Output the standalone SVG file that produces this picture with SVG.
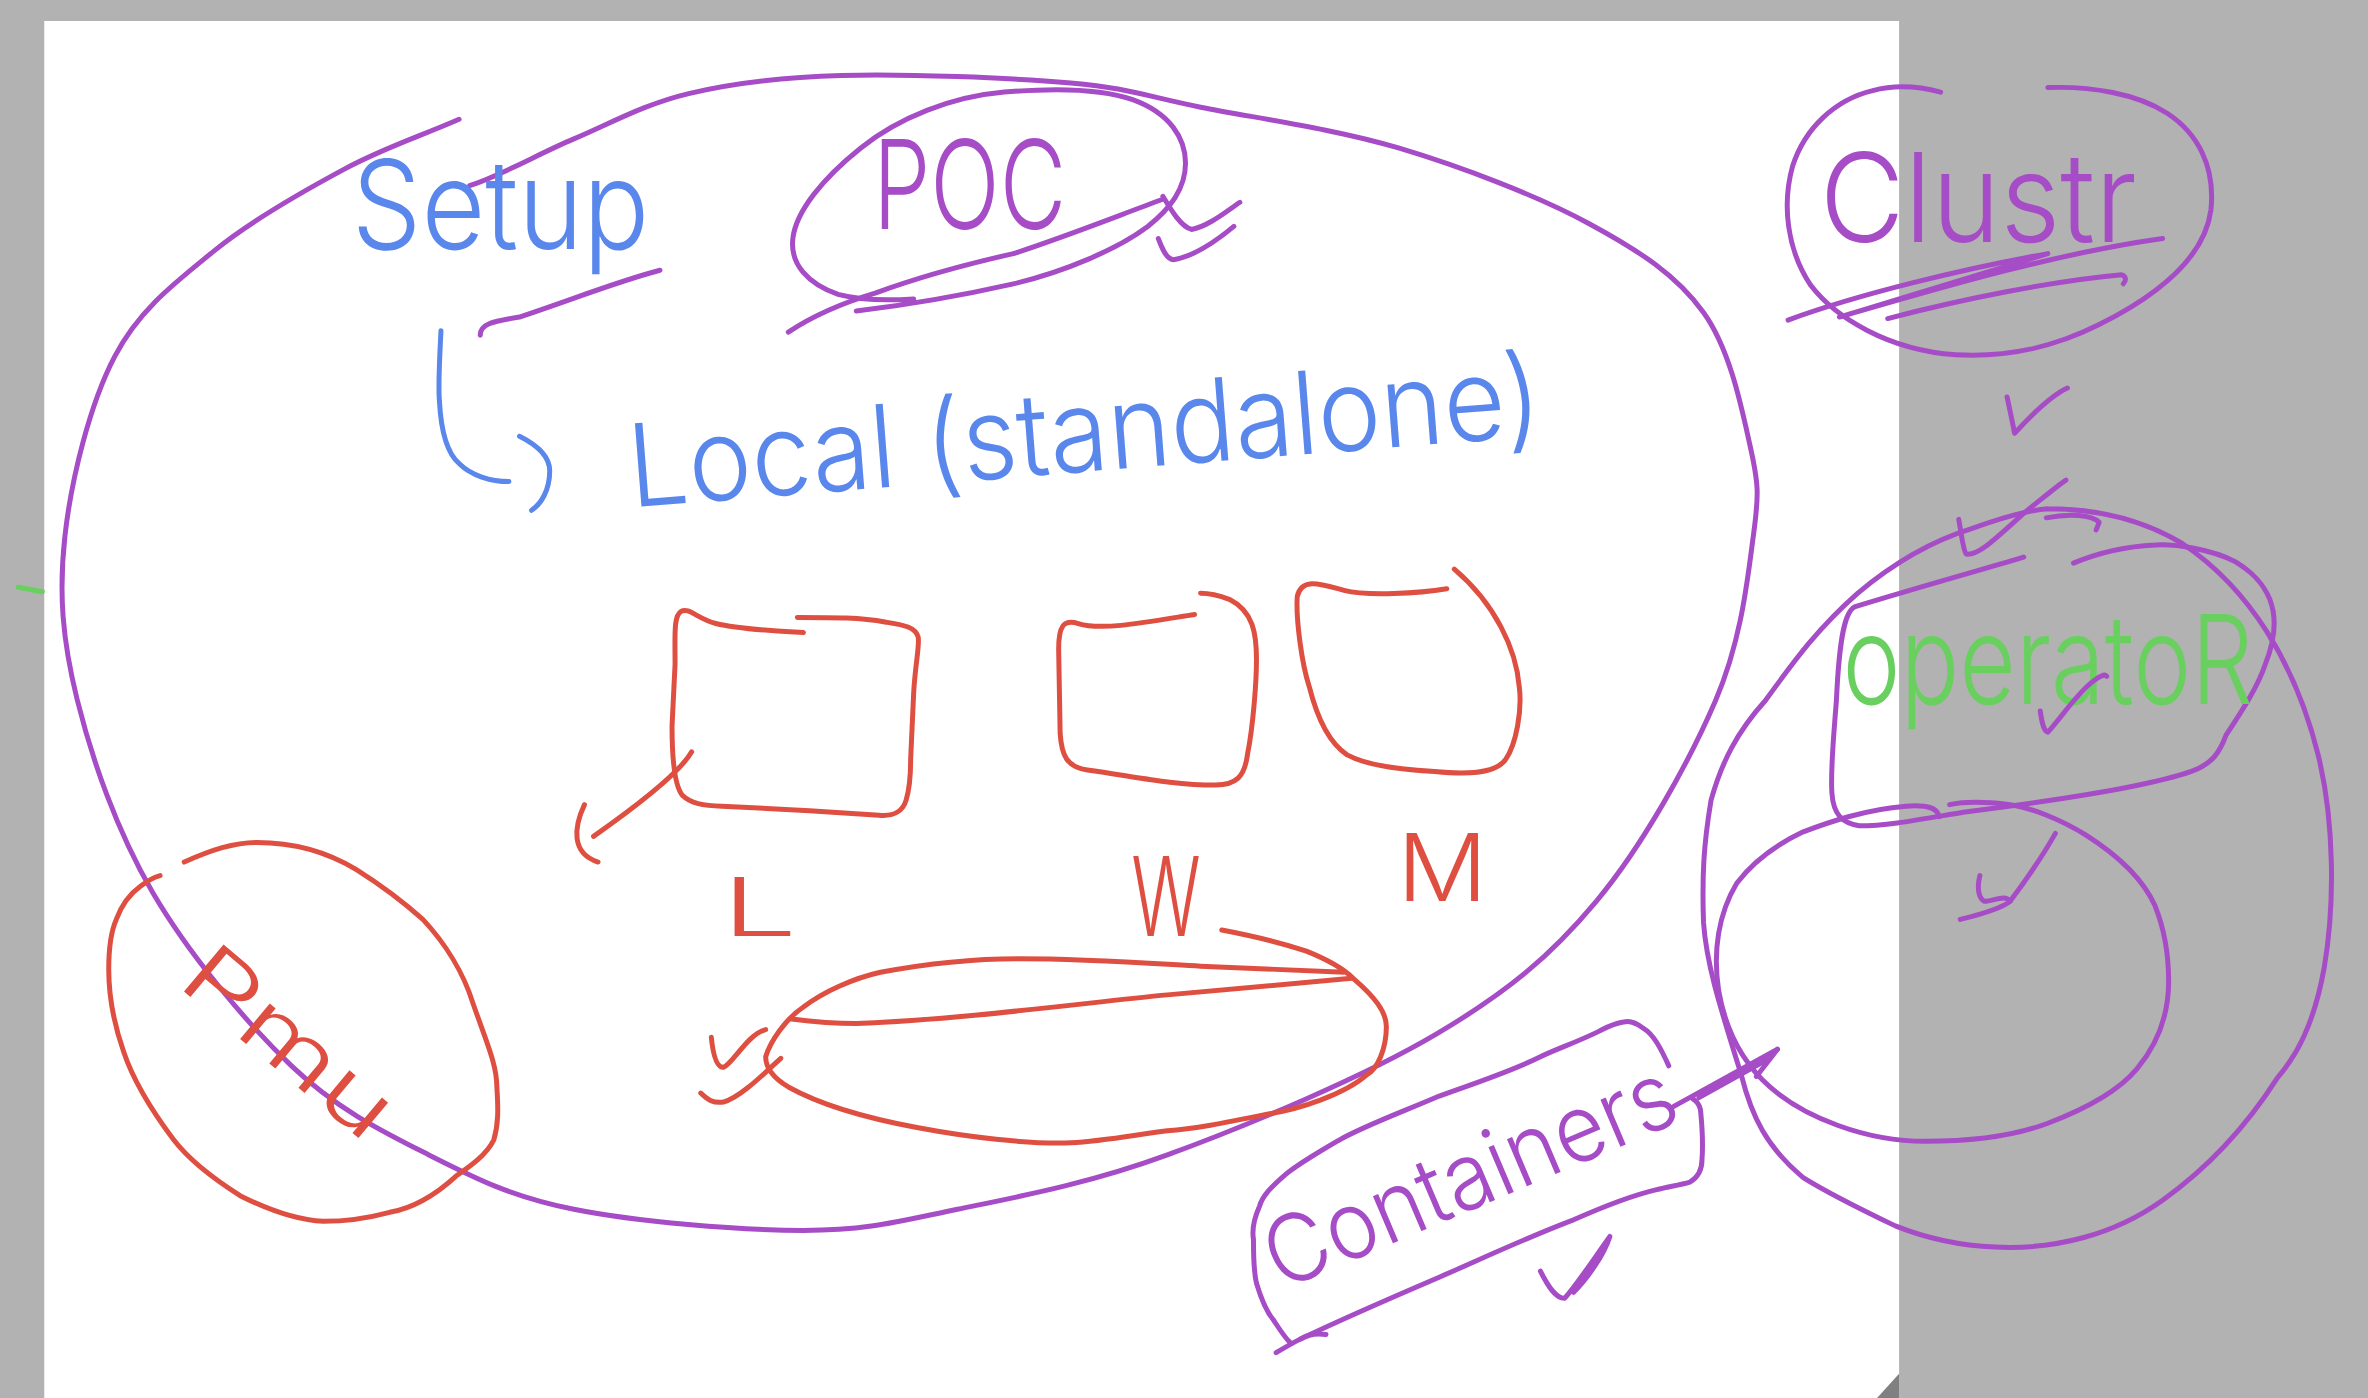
<svg xmlns="http://www.w3.org/2000/svg" width="2368" height="1398" viewBox="0 0 2368 1398">
<style>
.s{fill:none;stroke-linecap:round;stroke-linejoin:round;stroke-width:3.3}
.p{stroke:#a64cc6}
.r{stroke:#df4f41}
.b{stroke:#5a87ec}
.g{stroke:#69cf5f}
.t{font-family:Inter,"Open Sans","Noto Sans",sans-serif;font-weight:300}
.tp{fill:#a64cc6}.tr{fill:#df4f41}.tb{fill:#5a87ec}.tg{fill:#69cf5f}
</style>
<rect width="2368" height="1398" fill="#b2b2b2"/>
<g transform="scale(1.5102,1.5097)">
<rect x="29.3" y="13.9" width="1228.2" height="913" fill="#ffffff"/>
<polygon points="1257.5,910 1257.5,927 1242,927" fill="#808080"/>
<path class="s g" d="M12,389 L28,392"/>

<g id="setup">
<path class="s p" d="M304,79 C279,90 255,97.5 228,112 C201,126.5 167.3,145.3 142,166 C116.7,186.7 92.5,204.5 76,236 C59.5,267.5 47.2,317.2 43,355 C38.8,392.8 41.3,423.7 51,463 C60.7,502.3 77.3,550.5 101,591 C124.7,631.5 162.5,677 193,706 C223.5,735 252.8,749.2 284,765 C315.2,780.8 338.7,792.7 380,801 C421.3,809.3 489.7,815 532,815 C574.3,815 593.8,809.3 634,801 C674.2,792.7 720.2,784.3 773,765 C825.8,745.7 903.7,713 951,685 C998.3,657 1026.2,633.8 1057,597 C1087.8,560.2 1118.7,504.3 1136,464 C1153.3,423.7 1157.2,383 1161,355 C1164.8,327 1164.5,320.7 1159,296 C1153.5,271.3 1145.8,231.7 1128,207 C1110.2,182.3 1085.7,166.2 1052,148 C1018.3,129.8 968.8,110.8 926,98 C883.2,85.2 831.2,78.2 795,71 C758.8,63.8 748.7,58.5 709,55 C669.3,51.5 599.2,48.8 557,50 C514.8,51.2 485.5,55 456,62 C426.5,69 404.2,81.8 380,92 C355.8,102.2 334,115.3 311,123"/>
<text class="t tb" x="233" y="165" font-size="82" textLength="197" lengthAdjust="spacingAndGlyphs">Setup</text>
<path class="s p" d="M318,222 C318,215 325,213 344,210 C380,198 410,186 437,179"/>
</g>

<g id="poc">
<path class="s p" d="M567,206 C600,202 640,195 671,188 C705,180 740,165 760,150 C775,138 785,125 785,108 C785,92 775,75 750,66 C730,59 700,58 665,61 C630,64 595,78 570,98 C545,118 527,140 525,158 C523,175 535,188 555,195 C570,199 590,199 605,198"/>
<text class="t tp" x="578" y="152" font-size="82" textLength="128" lengthAdjust="spacingAndGlyphs">POC</text>
<path class="s p" d="M522,220 C540,208 560,200 580,194 C610,183 640,175 671,168 C705,157 740,143 770,132"/>
<path class="s p" d="M770,130 C776,140 782,150 789,152 C800,150 812,140 821,134"/>
<path class="s p" d="M767,158 C770,166 773,172 777,172 C790,170 805,160 817,150"/>
</g>

<g id="local">
<text class="t tb" transform="rotate(-4.5 418 336)" x="418" y="336" font-size="76" textLength="606" lengthAdjust="spacingAndGlyphs">Local (standalone)</text>
</g>

<g id="box-l">
<path class="s r" d="M532,419 C515,418 490,417 474,413 C462,410 456,402 451,405 C446,408 447,420 447,440 L445,481 C445,500 446,520 452,527 C458,533 468,534 478,534 C500,535 520,536 536,537 L582,540 C592,541 598,537 600,530 C603,520 603,503 603,503 L605,459 C606,440 609,428 608,422 C606,415 598,414 586,412 C570,409 553,409 528,409"/>
<path class="s r" d="M458,498 C450,512 420,535 393,554"/>
<path class="s r" d="M387,533 C380,548 378,565 396,571"/>
<text class="t tr" x="478" y="620" font-size="54" textLength="50" lengthAdjust="spacingAndGlyphs">L</text>
</g>

<g id="box-w">
<path class="s r" d="M791,407 C760,412 730,418 714,413 C704,410 701,415 701,430 L702,486 C703,500 706,508 720,510 C750,514 775,520 805,520 C818,520 824,515 826,500 C830,480 832,450 832,437 C832,420 830,405 814,397 C806,394 798,393 795,393"/>
<text class="t tr" x="749" y="620" font-size="73" textLength="46" lengthAdjust="spacingAndGlyphs">W</text>
</g>

<g id="box-m">
<path class="s r" d="M958,390 C940,393 905,395 890,391 C875,387 862,382 859,395 C858,410 862,440 867,455 C872,475 880,492 892,500 C905,507 930,510 950,511 C970,513 990,513 997,503 C1004,493 1008,470 1006,455 C1004,430 990,400 963,377"/>
<text class="t tr" x="925" y="597" font-size="62" textLength="60" lengthAdjust="spacingAndGlyphs">M</text>
</g>

<g id="red-oval">
<path class="s r" d="M809,616 C830,620 850,625 865,630 C880,636 890,642 896,648 C910,660 918,670 918,680 C918,695 912,708 905,712 C890,725 860,735 839,738 C810,744 790,748 773,749 C750,752 730,756 709,757 C680,758 640,753 608,747 C570,740 540,730 522,720 C512,714 507,707 507,700 C510,690 520,675 532,667 C545,657 565,648 583,644 C620,637 650,635 674,635 C720,635 760,638 795,640 L890,644"/>
<path class="s r" d="M524,675 C540,677 555,678 567,678 C640,675 720,664 773,659 L895,648"/>
<path class="s r" d="M471,687 C472,697 474,707 479,707 C485,705 495,685 507,682"/>
<path class="s r" d="M464,724 C468,728 472,731 479,730 C490,727 505,712 517,701"/>
</g>

<g id="red-circle">
<path class="s r" d="M122,571 C140,563 155,558 170,558 C195,558 218,565 236,576 C255,588 270,600 280,609 C295,625 307,645 313,664 C322,690 329,705 329,720 C330,735 330,745 327,755 C322,765 312,772 302,779 C290,790 275,800 258,803 C243,807 228,809 214,809 C195,808 175,800 159,792 C140,780 125,768 115,755 C100,735 88,715 82,697 C76,680 72,660 72,642 C72,630 73,618 77,609 C81,598 86,592 93,587 C97,584 102,581 106,580"/>
<text class="t tr" transform="translate(116,652) rotate(40)" x="0" y="0" font-size="56" textLength="165" lengthAdjust="spacingAndGlyphs">Pmu</text>
</g>

<g id="cluster">
<path class="s p" d="M1285,61 C1270,57 1255,56 1240,60 C1215,66 1195,85 1187,110 C1180,135 1183,165 1199,189 C1215,210 1250,232 1295,235 C1330,237 1360,230 1390,215 C1430,195 1460,170 1464,139 C1467,110 1455,88 1435,75 C1415,62 1385,57 1356,58"/>
<text class="t tp" x="1205" y="160" font-size="82" textLength="210" lengthAdjust="spacingAndGlyphs">Clustr</text>
<path class="s p" d="M1184,212 C1230,195 1300,178 1356,168 L1218,210 C1280,192 1360,168 1432,158"/>
<path class="s p" d="M1250,211 C1300,198 1360,186 1405,182 C1408,183 1408,186 1406,188"/>
</g>

<g id="operator">
<path class="s p" d="M1356,337 C1390,337 1420,345 1445,360 C1490,390 1520,440 1535,500 C1546,545 1546,600 1539,641 C1532,680 1520,700 1508,714 C1485,750 1460,775 1432,795 C1400,818 1360,828 1321,826 C1295,825 1275,820 1255,812 C1230,800 1210,790 1194,780 C1170,760 1160,740 1153,712 C1140,670 1130,640 1128,611 C1127,580 1128,560 1133,530 C1140,505 1150,485 1169,464 C1190,435 1205,415 1230,393 C1255,372 1280,358 1306,350 C1320,345 1340,338 1356,337"/>
<path class="s p" d="M1355,343 C1370,340 1385,341 1390,346 L1388,351"/>
<path class="s p" d="M1340,369 C1310,378 1260,392 1228,402 C1222,405 1218,420 1216,464 C1214,490 1212,510 1213,525 C1214,540 1220,545 1231,547 C1250,547 1270,543 1300,538 C1340,533 1420,522 1451,511 C1465,506 1470,498 1474,487 C1485,470 1495,455 1500,440 C1506,425 1508,410 1503,397 C1498,385 1490,378 1480,372 C1465,364 1440,360 1427,361 C1405,362 1385,368 1373,373"/>
<text class="t tg" x="1220" y="466" font-size="82" textLength="272" lengthAdjust="spacingAndGlyphs">operatoR</text>
<path class="s p" d="M1351,471 C1352,478 1353,484 1356,485 C1365,475 1375,460 1385,452 C1390,448 1394,446 1395,448"/>
</g>

<g id="inner-circle">
<path class="s p" d="M1284,541 C1283,535 1276,533 1262,534 C1235,536 1210,545 1194,551 C1175,560 1160,572 1150,585 C1138,605 1134,630 1138,656 C1143,685 1155,705 1172,720 C1195,740 1235,756 1275,756 C1310,756 1335,752 1356,744 C1385,733 1405,720 1415,708 C1430,690 1436,670 1436,650 C1436,630 1433,615 1427,600 C1418,580 1400,565 1381,553 C1365,543 1345,535 1331,533 C1315,531 1300,531 1291,533"/>
<path class="s p" d="M1311,580 C1309,588 1310,595 1314,597 C1320,597 1328,592 1331,597 C1325,602 1310,606 1298,609"/>
<path class="s p" d="M1331,597 C1340,585 1352,568 1361,552"/>
</g>

<g id="containers">
<path class="s p" d="M1105,706 C1100,695 1095,685 1088,681 C1083,677 1078,676 1075,677 C1068,678 1063,681 1059,683 C1045,690 1030,695 1020,700 C1000,710 975,718 953,726 C930,736 905,745 887,755 C870,765 858,772 850,779 C842,786 836,792 834,799 C830,808 829,815 830,821 C830,832 830,842 832,850 C835,860 838,868 843,874 C847,880 850,885 854,889"/>
<path class="s p" d="M845,896 C850,893 855,890 861,887 C890,873 925,858 953,846 C985,832 1015,818 1042,808 C1060,800 1080,792 1097,788 C1105,786 1112,785 1119,783 C1124,780 1127,775 1127,768 C1128,755 1127,745 1126,735 C1125,731 1123,729 1121,728"/>
<path class="s p" d="M861,887 C866,884 872,883 878,884"/>
<text class="t tp" transform="rotate(-23 848 855)" x="848" y="855" font-size="62" textLength="290" lengthAdjust="spacingAndGlyphs">Containers</text>
<path class="s p" d="M1020,842 C1025,852 1030,860 1036,860 C1045,850 1058,830 1066,819 C1062,832 1050,848 1042,856"/>
</g>

<g id="connectors">
<path class="s b" d="M292,219 C291,240 290,255 291,266 C292,285 296,300 304,307 C312,315 325,319 337,319"/>
<path class="s b" d="M344,289 C356,295 364,303 364,312 C364,325 358,334 352,338"/>
<path class="s p" d="M1329,263 C1331,272 1333,282 1334,287 C1345,275 1358,262 1369,257"/>
<path class="s p" d="M1297,344 C1299,355 1300,365 1302,367 C1310,368 1320,358 1340,340 C1355,328 1362,322 1368,318"/>
<path class="s p" d="M1108,733 L1177,695"/>
<path class="s p" stroke-width="5" d="M1125,727 L1170,702"/>
<path class="s p" d="M1177,695 L1163,713"/>
</g>
</g>
</svg>
